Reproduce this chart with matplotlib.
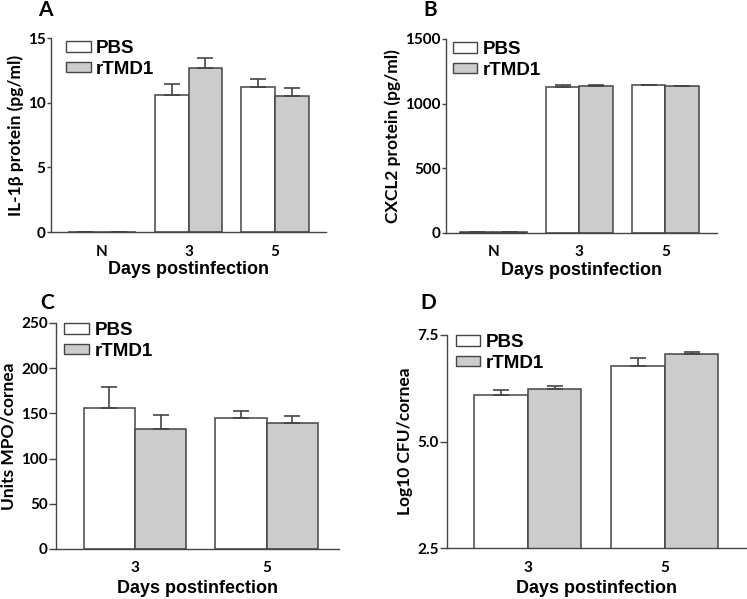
import numpy as np
import matplotlib
matplotlib.use("Agg")
import matplotlib.pyplot as plt
from matplotlib.patches import Patch

# panel A - IL-1b
catsA = ["N", "3", "5"]
pbsA = [0, 10.6, 11.25]
pbsA_err = [0, 0.87, 0.6]
tmdA = [0, 12.65, 10.55]
tmdA_err = [0, 0.8, 0.55]

# panel B - CXCL2
catsB = ["N", "3", "5"]
pbsB = [5, 1131, 1142]
pbsB_err = [0, 16, 3]
tmdB = [4, 1137, 1134]
tmdB_err = [0, 10, 3]

# panel C - MPO
catsC = ["3", "5"]
pbsC = [156, 144.9]
pbsC_err = [23.4, 7.8]
tmdC = [133, 139.3]
tmdC_err = [14.8, 7.8]

# panel D - CFU
catsD = ["3", "5"]
pbsD = [6.09, 6.77]
pbsD_err = [0.11, 0.18]
tmdD = [6.23, 7.05]
tmdD_err = [0.07, 0.04]

W, H = 747, 599
fig = plt.figure(figsize=(W / 100, H / 100), dpi=100)

LINE = "#444444"
GRAY = "#cccccc"
LBL = "Liberation Sans"
TCK = "Lato"


def make_ax(l, r, t, b):
    return fig.add_axes([l / W, 1 - b / H, (r - l) / W, (b - t) / H])


def panel(ax, cats, pbs, pbs_e, tmd, tmd_e, ylim, yticks, yticklabels,
          xlim, ylabel, letter, letter_xy, leg_xy, tlen, xlpad):
    x = np.arange(len(cats))
    w = 0.39
    ekw = dict(ecolor=LINE, elinewidth=1.2, capsize=6, capthick=1.2)
    ax.bar(x - w / 2, pbs, w, color="white", edgecolor=LINE, linewidth=1.1,
           yerr=[np.zeros(len(cats)), pbs_e], error_kw=ekw, zorder=2)
    ax.bar(x + w / 2, tmd, w, color=GRAY, edgecolor=LINE, linewidth=1.1,
           yerr=[np.zeros(len(cats)), tmd_e], error_kw=ekw, zorder=2)
    ax.set_xlim(*xlim)
    ax.set_ylim(*ylim)
    ax.set_yticks(yticks)
    ax.set_yticklabels(yticklabels, fontfamily=TCK, fontweight="bold", fontsize=11)
    ax.set_xticks(x)
    ax.set_xticklabels(cats, fontfamily=TCK, fontweight="bold", fontsize=11)
    for s in ["top", "right"]:
        ax.spines[s].set_visible(False)
    for s in ["left", "bottom"]:
        ax.spines[s].set_color(LINE)
        ax.spines[s].set_linewidth(1.0)
        ax.spines[s].set_zorder(3)
    ax.tick_params(axis="y", length=tlen, width=1.0, color=LINE, pad=1)
    ax.tick_params(axis="x", length=0, pad=9)
    ax.set_xlabel("Days postinfection", fontfamily=LBL, fontweight="bold",
                  fontsize=13, labelpad=xlpad)
    ax.set_ylabel(ylabel, fontfamily=TCK, fontweight="bold", fontsize=12.5, labelpad=3)
    fig.text(letter_xy[0] / W, 1 - letter_xy[1] / H, letter, fontfamily=TCK,
             fontweight="bold", fontsize=15, va="top", ha="left")
    handles = [Patch(facecolor="white", edgecolor=LINE, linewidth=1.0, label="PBS"),
               Patch(facecolor=GRAY, edgecolor=LINE, linewidth=1.0, label="rTMD1")]
    ax.legend(handles=handles, loc="upper left", bbox_to_anchor=leg_xy,
              frameon=False, borderpad=0, borderaxespad=0,
              handlelength=1.3, handleheight=0.5, handletextpad=0.3,
              labelspacing=0.2, prop=dict(family=LBL, weight="bold", size=13.5))


axA = make_ax(51, 326, 38, 232)
panel(axA, catsA, pbsA, pbsA_err, tmdA, tmdA_err, (0, 15), [0, 5, 10, 15],
      ["0", "5", "10", "15"], (-0.59, 2.59), "IL-1\u03b2 protein (pg/ml)",
      "A", (38, 0), (0.055, 0.99), 3, 2)

axB = make_ax(446, 717, 39, 233)
panel(axB, catsB, pbsB, pbsB_err, tmdB, tmdB_err, (0, 1500), [0, 500, 1000, 1500],
      ["0", "500", "1000", "1500"], (-0.55, 2.6), "CXCL2 protein (pg/ml)",
      "B", (423, 0), (0.025, 0.99), 3, 2)

axC = make_ax(56, 339, 323, 549)
panel(axC, catsC, pbsC, pbsC_err, tmdC, tmdC_err, (0, 250), [0, 50, 100, 150, 200, 250],
      ["0", "50", "100", "150", "200", "250"], (-0.6, 1.55), "Units MPO/cornea",
      "C", (40, 293), (0.03, 1.005), 5, 3)

axD = make_ax(447, 747, 335, 548)
panel(axD, catsD, pbsD, pbsD_err, tmdD, tmdD_err, (2.5, 7.5), [2.5, 5.0, 7.5],
      ["2.5", "5.0", "7.5"], (-0.59, 1.6), "Log10 CFU/cornea",
      "D", (420, 293), (0.03, 1.005), 5, 4)

fig.savefig("out.png", dpi=100)
